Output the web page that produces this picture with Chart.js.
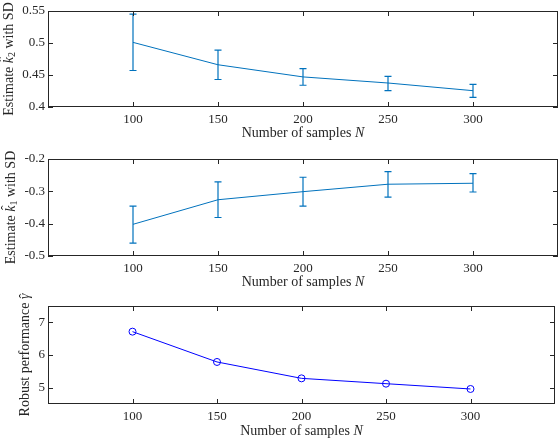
<!DOCTYPE html>
<html><head><meta charset="utf-8">
<script src="https://cdn.jsdelivr.net/npm/chart.js@4/dist/chart.umd.min.js"></script>
<style>
html,body{margin:0;padding:0;background:#fff;width:560px;height:440px;overflow:hidden;}
.box{position:absolute;left:0;width:560px;}
</style></head><body>
<div class="box" style="top:0;height:146px"><canvas id="c1"></canvas></div>
<div class="box" style="top:140px;height:155px"><canvas id="c2"></canvas></div>
<div class="box" style="top:280px;height:160px"><canvas id="c3"></canvas></div>
<script>
const samples = [100, 150, 200, 250, 300];
const k2Mean = [0.501, 0.466, 0.447, 0.4375, 0.4255];
const k2Low  = [0.457, 0.443, 0.434, 0.4255, 0.415];
const k2High = [0.545, 0.489, 0.460, 0.448, 0.4355];
const k1Mean = [-0.402, -0.326, -0.301, -0.278, -0.275];
const k1Low  = [-0.460, -0.381, -0.346, -0.318, -0.302];
const k1High = [-0.346, -0.271, -0.2565, -0.239, -0.245];
const gammaVals = [6.715, 5.787, 5.285, 5.122, 4.96];
const xTickVals = [100, 150, 200, 250, 300];
const k2Ticks = [0.4, 0.45, 0.5, 0.55];
const k2TickLabels = ['0.4', '0.45', '0.5', '0.55'];
const k1Ticks = [-0.5, -0.4, -0.3, -0.2];
const k1TickLabels = ['-0.5', '-0.4', '-0.3', '-0.2'];
const gammaTicks = [5, 6, 7];
const gammaTickLabels = ['5', '6', '7'];

const FONT = "'Liberation Serif', 'Times New Roman', serif";
Chart.defaults.font.family = FONT;
Chart.defaults.font.size = 13;
Chart.defaults.color = '#262626';
const AX = '#262626';

const boxPlugin = {
  id: 'boxTicks',
  afterDraw(chart) {
    const {ctx, chartArea: a, scales} = chart;
    ctx.save();
    ctx.strokeStyle = AX;
    ctx.lineWidth = 1;
    ctx.strokeRect(Math.round(a.left) + 0.5, Math.round(a.top) + 0.5,
                   Math.round(a.right - a.left) - 1, Math.round(a.bottom - a.top) - 1);
    const L = 5;
    ctx.beginPath();
    scales.x.ticks.forEach(t => {
      const x = Math.round(scales.x.getPixelForValue(t.value)) + 0.5;
      ctx.moveTo(x, a.bottom); ctx.lineTo(x, a.bottom - L);
      ctx.moveTo(x, a.top); ctx.lineTo(x, a.top + L);
    });
    scales.y.ticks.forEach(t => {
      const y = Math.round(scales.y.getPixelForValue(t.value)) + 0.5;
      ctx.moveTo(a.left, y); ctx.lineTo(a.left + L, y);
      ctx.moveTo(a.right, y); ctx.lineTo(a.right - L, y);
    });
    ctx.stroke();
    ctx.restore();
  }
};

const errPlugin = {
  id: 'errBars',
  afterDatasetsDraw(chart, args, opts) {
    if (!opts || !opts.low) return;
    const {ctx, scales} = chart;
    ctx.save();
    ctx.strokeStyle = opts.color;
    ctx.lineWidth = 1.2;
    ctx.beginPath();
    samples.forEach((s, i) => {
      const x = scales.x.getPixelForValue(s);
      const y1 = scales.y.getPixelForValue(opts.low[i]);
      const y2 = scales.y.getPixelForValue(opts.high[i]);
      ctx.moveTo(x, y1); ctx.lineTo(x, y2);
      ctx.moveTo(x - 3.5, y1); ctx.lineTo(x + 3.5, y1);
      ctx.moveTo(x - 3.5, y2); ctx.lineTo(x + 3.5, y2);
    });
    ctx.stroke();
    ctx.restore();
  }
};

// axis titles with mixed (italic / subscript / hat) runs
function fontStr(p) { return (p.italic ? 'italic ' : '') + (p.size || 14) + 'px ' + FONT; }
function drawRuns(ctx, runs, cx, cy, rotate) {
  ctx.save();
  ctx.translate(cx, cy);
  if (rotate) ctx.rotate(-Math.PI / 2);
  ctx.fillStyle = AX;
  ctx.textBaseline = 'middle';
  ctx.textAlign = 'left';
  let w = 0;
  runs.forEach(r => { ctx.font = fontStr(r); r.w = ctx.measureText(r.t).width; w += r.w; });
  let x = -w / 2;
  runs.forEach(r => {
    ctx.font = fontStr(r);
    ctx.fillText(r.t, x, r.dy || 0);
    if (r.hat) {
      ctx.font = (r.size || 14) + 'px ' + FONT;
      ctx.textAlign = 'center';
      ctx.fillText('\u02C6', x + r.w / 2 + (r.hatDx || 0), r.hatDy || 0);
      ctx.textAlign = 'left';
    }
    x += r.w;
  });
  ctx.restore();
}

const titlePlugin = {
  id: 'axTitles',
  afterDraw(chart, args, opts) {
    const {ctx, chartArea: a} = chart;
    drawRuns(ctx, opts.xRuns, (a.left + a.right) / 2, a.bottom + opts.xOff, false);
    drawRuns(ctx, opts.yRuns, opts.yX, (a.top + a.bottom) / 2, true);
  }
};

const xTitleRuns = [{t: 'Number of samples '}, {t: 'N', italic: true}];

function makeChart(id, cfg) {
  const data = samples.map((s, i) => ({x: s, y: cfg.values[i]}));
  return new Chart(document.getElementById(id), {
    type: 'line',
    data: { datasets: [{
      data,
      borderColor: cfg.color,
      borderWidth: 1,
      pointRadius: cfg.pointRadius,
      pointBorderColor: cfg.color,
      pointBackgroundColor: 'rgba(0,0,0,0)',
      pointBorderWidth: 1,
      fill: false,
      tension: 0
    }]},
    options: {
      responsive: true,
      maintainAspectRatio: false,
      animation: false,
      events: [],
      layout: { padding: { top: cfg.padTop, right: 2, left: 0, bottom: 0 } },
      plugins: {
        legend: { display: false },
        tooltip: { enabled: false },
        errBars: cfg.err || {},
        axTitles: { xRuns: xTitleRuns, xOff: cfg.xOff, yRuns: cfg.yRuns, yX: cfg.yX }
      },
      scales: {
        x: {
          type: 'linear', min: 50, max: 350,
          afterBuildTicks: s => { s.ticks = xTickVals.map(v => ({value: v})); },
          afterFit: s => { s.height = cfg.xHeight; },
          grid: { display: false, drawTicks: false },
          border: { display: false },
          ticks: { padding: 5, font: { size: 13 }, callback: v => String(v) }
        },
        y: {
          min: cfg.min, max: cfg.max,
          afterBuildTicks: s => { s.ticks = cfg.ticks.map(v => ({value: v})); },
          afterFit: s => { s.width = 48; },
          grid: { display: false, drawTicks: false },
          border: { display: false },
          ticks: { padding: 3, font: { size: 13 },
                   callback: (v) => { const i = cfg.ticks.findIndex(t => Math.abs(t - v) < 1e-9); return i >= 0 ? cfg.labels[i] : ''; } }
        }
      }
    },
    plugins: [errPlugin, boxPlugin, titlePlugin]
  });
}

makeChart('c1', { values: k2Mean, color: '#0072BD', pointRadius: 0,
  err: { low: k2Low, high: k2High, color: '#0072BD' },
  min: 0.4, max: 0.55, ticks: k2Ticks, labels: k2TickLabels,
  padTop: 11, xHeight: 39, xOff: 26.5, yX: 9,
  yRuns: [{t: 'Estimate '}, {t: 'k', italic: true, hat: true, hatDx: 1, hatDy: -4}, {t: '2', size: 10, dy: 3}, {t: ' with SD'}] });
makeChart('c2', { values: k1Mean, color: '#0072BD', pointRadius: 0,
  err: { low: k1Low, high: k1High, color: '#0072BD' },
  min: -0.5, max: -0.2, ticks: k1Ticks, labels: k1TickLabels,
  padTop: 19, xHeight: 39, xOff: 26.5, yX: 11,
  yRuns: [{t: 'Estimate '}, {t: 'k', italic: true, hat: true, hatDx: 1, hatDy: -4}, {t: '1', size: 10, dy: 3}, {t: ' with SD'}] });
makeChart('c3', { values: gammaVals, color: '#0000FF', pointRadius: 3.5,
  min: 4.5, max: 7.5, ticks: gammaTicks, labels: gammaTickLabels,
  padTop: 26, xHeight: 36, xOff: 27.5, yX: 25,
  yRuns: [{t: 'Robust performance '}, {t: '\u03B3', italic: true, hat: true, hatDx: 0.5, hatDy: 0}] });
</script>
</body></html>
